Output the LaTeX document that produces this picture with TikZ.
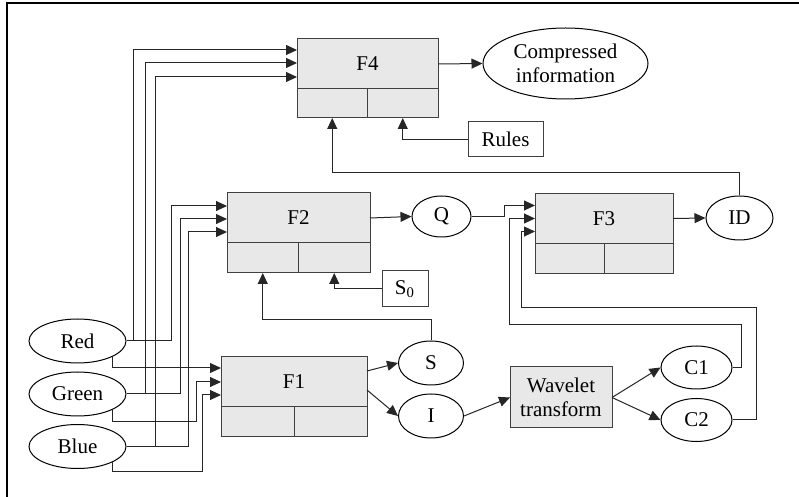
\documentclass[tikz,border=0pt]{standalone}
\usepackage{fontspec}
\setmainfont{Liberation Serif}
\usetikzlibrary{arrows.meta,positioning,shapes.geometric,calc}
\definecolor{boxgray}{HTML}{E8E8E8}
\tikzset{
  arr/.style={-{Triangle[length=5.5pt,width=5pt]}, draw=black!85, line width=0.5pt},
  fbox/.style={draw=black!75, fill=boxgray, line width=0.5pt, inner sep=0pt, outer sep=0pt},
  cell/.style={fbox, anchor=north west},
  oval/.style={ellipse, draw, line width=0.5pt, inner sep=0pt},
  tbox/.style={draw=black!75, line width=0.5pt, inner sep=0pt},
}
% block with a title part and two cells below
\newcommand{\funcbox}[5]{%
  \node[fbox, minimum width=#3, minimum height=25pt] (#1) at (#2) {#5};
  \node[cell, minimum width=#3/2, minimum height=#4] (#1l) at (#1.south west) {};
  \node[cell, minimum width=#3/2, minimum height=#4] (#1r) at (#1l.north east) {};
}

\begin{document}
\begin{tikzpicture}[x=0.5pt,y=-0.5pt,font=\fontsize{10.5}{12}\selectfont]
			%%%%% START %%%%%
			\useasboundingbox (0,0) rectangle (799,497);
			\draw[line width=1pt] (7,497) -- (7,3) -- (799,3);
			
			\funcbox{F4}{367.5,64}{70.5pt}{14.5pt}{F4}
			\funcbox{F2}{298.5,218}{71.5pt}{15pt}{F2}
			\funcbox{F1}{294,382}{73pt}{15pt}{F1}
			\funcbox{F3}{604,218.5}{69pt}{15pt}{F3}
			
			\node[oval, minimum width=82.5pt, minimum height=35.5pt, align=center] (Comp) at (565.5,63.5) {Compressed\\information};
			\node[tbox, minimum width=37.5pt, minimum height=17.5pt] (Rules) at (505.5,139.5) {Rules};
			\node[tbox, minimum width=23pt, minimum height=18pt] (S0) at (405,289) {S\textsubscript{0}};
			\node[oval, minimum width=29.5pt, minimum height=20.5pt] (Q) at (441.5,216.5) {Q};
			\node[oval, minimum width=33.5pt, minimum height=22pt] (ID) at (739.5,218) {ID};
			
			\node[oval, minimum width=48.5pt, minimum height=22pt] (Red) at (77.5,341) {Red};
			\node[oval, minimum width=48.5pt, minimum height=22pt] (Green) at (77.5,394) {Green};
			\node[oval, minimum width=48.5pt, minimum height=22pt] (Blue) at (77.5,446.5) {Blue};
			
			\node[oval, minimum width=32.5pt, minimum height=22pt] (S) at (431,363) {S};
			\node[oval, minimum width=32.5pt, minimum height=22pt] (I) at (431,416) {I};
			\node[fbox, minimum width=51pt, minimum height=30.5pt, align=center] (WT) at (561,397.5) {Wavelet\\transform};
			\node[oval, minimum width=35.5pt, minimum height=21.5pt] (C1) at (696.5,367.5) {C1};
			\node[oval, minimum width=35.5pt, minimum height=21.5pt] (C2) at (696.5,420) {C2};
			
			% colour planes into F4 and F2
			\draw[arr] (Red.east) -- ++(7,0) |- ([yshift=7pt]F4.west);
			\draw[arr] (Red.east) -- ++(45,0) |- ([yshift=6pt]F2.west);
			\draw[arr] (Green.east) -- ++(19,0) |- ([yshift=0.5pt]F4.west);
			\draw[arr] (Green.east) -- ++(54,0) |- ([yshift=-0.5pt]F2.west);
			\draw[arr] (Blue.east) -- ++(29,0) |- ([yshift=-6.5pt]F4.west);
			\draw[arr] (Blue.east) -- ++(62,0) |- ([yshift=-7pt]F2.west);
			
			% colour planes into F1
			\draw[arr] (Red.south east) |- ([yshift=7pt]F1.west);
			\draw[arr] (Green.south east) |- (196,422) |- (F1.west);
			\draw[arr] (Blue.south east) |- (202,472) |- ([yshift=-6.5pt]F1.west);
			
			\draw[arr] ([yshift=5.5pt]F1.east) -- (S.west);
			\draw[arr] ([yshift=-4pt]F1.east) -- (I.west);
			\draw[arr] (I.east) -- (WT.west);
			\draw[arr] (WT.east) -- (C1.west);
			\draw[arr] (WT.east) -- (C2.west);
			
			\draw[arr] (S.north) -- ++(0,-21) -| (F2l.south);
			\draw[arr] (S0.west) -| (F2r.south);
			\draw[arr] (F2.east) -- (Q.west);
			
			\draw[arr] (Q.east) -- ++(32.5,0) |- ([yshift=6.5pt]F3.west);
			\draw[arr] (C1.east) -| (741,325) -| ([xshift=-13pt]F3.west) -- (F3.west);
			\draw[arr] (C2.east) -| (756,308) -| ([xshift=-7pt,yshift=-6.5pt]F3.west) -- ([yshift=-6.5pt]F3.west);
			\draw[arr] (F3.east) -- (ID.west);
			
			\draw[arr] (ID.north) -- ++(0,-23) -| (F4l.south);
			\draw[arr] (Rules.west) -| (F4r.south);
			\draw[arr] (F4.east) -- (Comp.west);
			%%%%% END %%%%%
		\end{tikzpicture}
\end{document}
